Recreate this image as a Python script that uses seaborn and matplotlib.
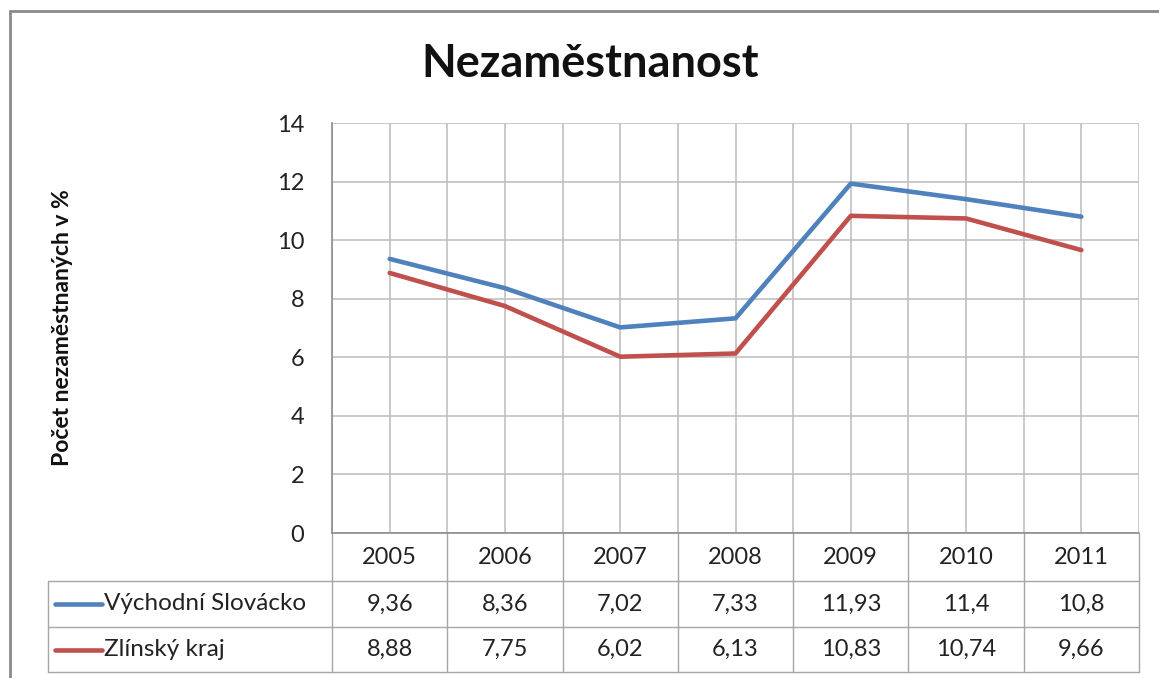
import numpy as np
import pandas as pd
import matplotlib
matplotlib.use("Agg")
import matplotlib.pyplot as plt
import matplotlib.transforms as mtransforms
from matplotlib.lines import Line2D
from matplotlib.patches import Rectangle
import seaborn as sns

years = [2005, 2006, 2007, 2008, 2009, 2010, 2011]
vychodni_slovacko = [9.36, 8.36, 7.02, 7.33, 11.93, 11.4, 10.8]
zlinsky_kraj = [8.88, 7.75, 6.02, 6.13, 10.83, 10.74, 9.66]
series_names = ["Východní Slovácko", "Zlínský kraj"]
colors = ["#4F81BD", "#C0504D"]

df = pd.DataFrame({
    "rok": years * 2,
    "hodnota": vychodni_slovacko + zlinsky_kraj,
    "oblast": [series_names[0]] * len(years) + [series_names[1]] * len(years),
})

sns.set_style("white")
plt.rcParams["font.family"] = ["Lato", "DejaVu Sans"]

W, H = 1159, 678
fig = plt.figure(figsize=(W / 100, H / 100), dpi=100)

def fx(px):
    return px / W

def fy(py):
    return 1 - py / H

# plot area in pixels
left, right, top, bottom = 332, 1139, 123, 533
ax = fig.add_axes([fx(left), fy(bottom), fx(right) - fx(left), fy(top) - fy(bottom)])

sns.lineplot(data=df, x="rok", y="hodnota", hue="oblast", palette=colors,
             linewidth=3.3, legend=False, ax=ax)

ax.set_xlim(years[0] - 0.5, years[-1] + 0.5)
ax.set_ylim(0, 14)
ax.set_yticks(np.arange(0, 15, 2))
ax.set_xticks(np.arange(years[0] - 0.5, years[-1] + 0.51, 0.5))
ax.set_xticklabels([])
ax.tick_params(axis="both", length=0)
ax.tick_params(axis="y", labelsize=17, pad=20, colors="#222222")
ax.grid(True, color="#C0C0C0", linewidth=1.2)
ax.set_axisbelow(True)
for side in ["top", "right", "bottom"]:
    ax.spines[side].set_visible(False)
ax.spines["left"].set_color("#8C8C8C")
ax.spines["left"].set_linewidth(1.2)
ax.set_xlabel("")
ax.set_ylabel("")

fig.text(fx(63), fy(328), "Počet nezaměstnaných v %", rotation=90,
         fontsize=16.5, fontweight="bold", ha="center", va="center", color="#111111")
fig.text(fx(590), fy(64), "Nezaměstnanost", fontsize=32.5, fontweight="bold",
         ha="center", va="center", color="#111111")

# outer chart frame
fig.add_artist(Rectangle((fx(10), fy(700)), fx(1200) - fx(10), fy(11) - fy(700),
                         transform=fig.transFigure, fill=False,
                         edgecolor="#8A8A8A", linewidth=2))

# data table under the plot
tr = mtransforms.blended_transform_factory(ax.transData, fig.transFigure)
line_col = "#A6A6A6"
row_y = [533, 581, 627, 672]
bounds = np.arange(years[0] - 0.5, years[-1] + 0.51, 1.0)

for b in bounds:
    fig.add_artist(Line2D([b, b], [fy(row_y[0]), fy(row_y[-1])], transform=tr,
                          color=line_col, linewidth=1))
fig.add_artist(Line2D([fx(left), fx(right)], [fy(row_y[0])] * 2,
                      color="#8C8C8C", linewidth=1.2))
for yy in row_y[1:]:
    fig.add_artist(Line2D([fx(48), fx(right)], [fy(yy)] * 2,
                          color=line_col, linewidth=1))
fig.add_artist(Line2D([fx(48), fx(48)], [fy(row_y[1]), fy(row_y[-1])],
                      color=line_col, linewidth=1))

for yr in years:
    fig.text(yr, fy(557), str(yr), transform=tr, fontsize=17,
             ha="center", va="center", color="#222222")

for i, (name, vals, c) in enumerate(zip(series_names,
                                        [vychodni_slovacko, zlinsky_kraj], colors)):
    yc = fy((row_y[i + 1] + row_y[i + 2]) / 2)
    fig.add_artist(Line2D([fx(55), fx(102)], [yc, yc], color=c, linewidth=3.3))
    fig.text(fx(104), yc, name, fontsize=17.5, ha="left", va="center", color="#222222")
    for yr, v in zip(years, vals):
        fig.text(yr, yc, str(v).replace(".", ","), transform=tr, fontsize=17,
                 ha="center", va="center", color="#222222")

fig.savefig("out.png", dpi=100)
